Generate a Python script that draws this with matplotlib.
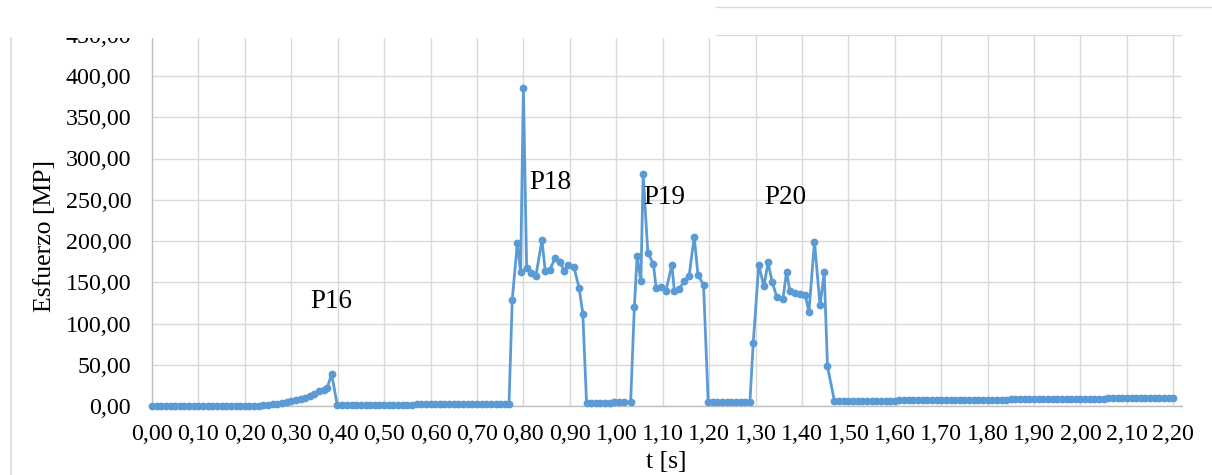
import matplotlib
matplotlib.use("Agg")
import matplotlib.pyplot as plt
from matplotlib.ticker import FuncFormatter
from matplotlib.patches import Rectangle
from matplotlib.lines import Line2D

# ---- time stamps [s] and stress values [MPa] per phase ----
t_p16 = [0.00, 0.01, 0.02, 0.03, 0.04, 0.05, 0.06, 0.07, 0.08, 0.09,
         0.10, 0.11, 0.12, 0.13, 0.14, 0.15, 0.16, 0.17, 0.18, 0.19,
         0.20, 0.21, 0.22, 0.23, 0.24, 0.25, 0.26, 0.27, 0.28, 0.29,
         0.30, 0.31, 0.32, 0.33, 0.34, 0.35, 0.36, 0.37, 0.377, 0.387]
s_p16 = [0.0, 0.0, 0.1, 0.1, 0.1, 0.2, 0.2, 0.2, 0.2, 0.3,
         0.3, 0.3, 0.3, 0.4, 0.4, 0.4, 0.4, 0.5, 0.5, 0.5,
         0.5, 0.6, 0.6, 0.6, 0.7, 0.8, 2.2, 3.0, 3.8, 4.6,
         5.5, 6.7, 8.2, 10.0, 12.3, 14.8, 17.6, 19.5, 21.4, 38.8]

t_rest1 = [0.399, 0.41, 0.42, 0.43, 0.44, 0.45, 0.46, 0.47, 0.48, 0.49,
           0.50, 0.51, 0.52, 0.53, 0.54, 0.55, 0.56, 0.57, 0.58, 0.59,
           0.60, 0.61, 0.62, 0.63, 0.64, 0.65, 0.66, 0.67, 0.68, 0.69,
           0.70, 0.71, 0.72, 0.73, 0.74, 0.75, 0.76, 0.769]
s_rest1 = [1.2, 1.2, 1.3, 1.3, 1.3, 1.4, 1.4, 1.4, 1.5, 1.5,
           1.5, 1.6, 1.6, 1.7, 1.7, 1.8, 1.8, 1.9, 1.9, 2.0,
           2.0, 2.1, 2.1, 2.2, 2.2, 2.3, 2.3, 2.4, 2.4, 2.5,
           2.5, 2.6, 2.6, 2.7, 2.7, 2.8, 2.9, 3.0]

t_p18 = [0.776, 0.787, 0.794, 0.800, 0.807, 0.816, 0.827, 0.840, 0.847,
         0.857, 0.868, 0.879, 0.888, 0.896, 0.909, 0.920, 0.928]
s_p18 = [129, 198, 162, 386, 167, 161, 158, 201, 164,
         165, 179, 174, 164, 171, 168, 143, 112]

t_rest2 = [0.936, 0.946, 0.956, 0.966, 0.976, 0.986, 0.996, 1.006, 1.016, 1.031]
s_rest2 = [4.0, 4.0, 4.1, 4.1, 4.2, 4.2, 4.3, 4.3, 4.4, 4.5]

t_p19 = [1.039, 1.045, 1.053, 1.058, 1.068, 1.080, 1.086, 1.096, 1.107,
         1.120, 1.125, 1.136, 1.146, 1.157, 1.168, 1.176, 1.188]
s_p19 = [120, 182, 151, 281, 186, 172, 143, 144, 140,
         171, 140, 142, 151, 158, 205, 159, 147]

t_rest3 = [1.198, 1.208, 1.218, 1.228, 1.238, 1.248, 1.258, 1.268, 1.278, 1.288]
s_rest3 = [5.0, 5.0, 5.1, 5.1, 5.2, 5.2, 5.3, 5.3, 5.4, 5.4]

t_p20 = [1.295, 1.307, 1.318, 1.327, 1.336, 1.346, 1.359, 1.367, 1.374,
         1.385, 1.396, 1.407, 1.415, 1.427, 1.439, 1.448, 1.455]
s_p20 = [76, 171, 145, 174, 150, 132, 130, 163, 139,
         137, 136, 135, 114, 199, 122, 162, 48]

t_rest4 = [1.47, 1.48, 1.49, 1.50, 1.51, 1.52, 1.53, 1.54, 1.55, 1.56,
           1.57, 1.58, 1.59, 1.60, 1.61, 1.62, 1.63, 1.64, 1.65, 1.66,
           1.67, 1.68, 1.69, 1.70, 1.71, 1.72, 1.73, 1.74, 1.75, 1.76,
           1.77, 1.78, 1.79, 1.80, 1.81, 1.82, 1.83, 1.84, 1.85, 1.86,
           1.87, 1.88, 1.89, 1.90, 1.91, 1.92, 1.93, 1.94, 1.95, 1.96,
           1.97, 1.98, 1.99, 2.00, 2.01, 2.02, 2.03, 2.04, 2.05, 2.06,
           2.07, 2.08, 2.09, 2.10, 2.11, 2.12, 2.13, 2.14, 2.15, 2.16,
           2.17, 2.18, 2.19, 2.20]
s_rest4 = [6.0, 6.0, 6.1, 6.1, 6.2, 6.2, 6.3, 6.3, 6.4, 6.4,
           6.5, 6.5, 6.6, 6.6, 6.7, 6.7, 6.8, 6.8, 6.9, 6.9,
           7.0, 7.0, 7.1, 7.1, 7.2, 7.2, 7.3, 7.3, 7.4, 7.4,
           7.5, 7.5, 7.6, 7.6, 7.7, 7.7, 7.8, 7.8, 7.9, 7.9,
           8.0, 8.1, 8.1, 8.2, 8.2, 8.3, 8.3, 8.4, 8.4, 8.5,
           8.5, 8.6, 8.6, 8.7, 8.8, 8.8, 8.9, 8.9, 9.0, 9.1,
           9.1, 9.2, 9.3, 9.3, 9.4, 9.5, 9.5, 9.6, 9.7, 9.8,
           9.8, 9.9, 10.0, 10.0]

# peak labels and where they sit (t, stress)
peak_names = ["P16", "P18", "P19", "P20"]
peak_t = [0.386, 0.857, 1.103, 1.364]
peak_s = [127, 271, 253, 253]

x_ticks = [0.00, 0.10, 0.20, 0.30, 0.40, 0.50, 0.60, 0.70, 0.80, 0.90, 1.00,
           1.10, 1.20, 1.30, 1.40, 1.50, 1.60, 1.70, 1.80, 1.90, 2.00, 2.10, 2.20]
y_ticks = [0, 50, 100, 150, 200, 250, 300, 350, 400, 450]

t_all = t_p16 + t_rest1 + t_p18 + t_rest2 + t_p19 + t_rest3 + t_p20 + t_rest4
s_all = s_p16 + s_rest1 + s_p18 + s_rest2 + s_p19 + s_rest3 + s_p20 + s_rest4

plt.rcParams["font.family"] = ["Liberation Serif", "DejaVu Serif"]

W, H = 1212, 475
fig = plt.figure(figsize=(W / 100, H / 100), dpi=100)
ax = fig.add_axes([152 / W, 1 - 406 / H, (1181.7 - 152) / W, (406 - 34.75) / H])

grid_c = "#d9d9d9"
ax.set_xlim(0, 2.218)
ax.set_ylim(0, 450)
ax.set_xticks(x_ticks)
ax.set_yticks(y_ticks)
comma = FuncFormatter(lambda v, p: f"{v:.2f}".replace(".", ","))
ax.xaxis.set_major_formatter(comma)
ax.yaxis.set_major_formatter(comma)
ax.grid(True, color=grid_c, linewidth=1.0)
ax.set_axisbelow(True)
for side in ("top", "right"):
    ax.spines[side].set_visible(False)
for side in ("left", "bottom"):
    ax.spines[side].set_color("#bfbfbf")
    ax.spines[side].set_linewidth(1.0)
ax.tick_params(length=0, labelsize=17.3, colors="black")
ax.tick_params(axis="y", pad=15)
ax.tick_params(axis="x", pad=13)

ax.plot(t_all, s_all, color="#5b9bd5", linewidth=2.0, marker="o",
        markersize=5.6, markeredgewidth=0, clip_on=False, zorder=3)

for name, tx, sy in zip(peak_names, peak_t, peak_s):
    ax.text(tx, sy, name, ha="center", va="center", fontsize=19.5, zorder=4)

fig.text(45 / W, 1 - 236 / H, "Esfuerzo [MP]", rotation=90, ha="center",
         va="center", fontsize=18.5)
fig.text(666 / W, 1 - 462 / H, "t [s]", ha="center", va="center", fontsize=18.5)

# white band over the top-left corner and the thin frame lines of the sheet
fig.add_artist(Rectangle((0, 1 - 37.5 / H), 716 / W, 37.5 / H,
                         transform=fig.transFigure, facecolor="white",
                         edgecolor="none", zorder=10))
fig.add_artist(Line2D([716 / W, 1], [1 - 6.7 / H, 1 - 6.7 / H],
                      transform=fig.transFigure, color=grid_c, linewidth=1.0,
                      zorder=11))
fig.add_artist(Line2D([11 / W, 11 / W], [0, 1 - 38 / H],
                      transform=fig.transFigure, color=grid_c, linewidth=1.2,
                      zorder=11))

fig.savefig("out.png", dpi=100, facecolor="white")
